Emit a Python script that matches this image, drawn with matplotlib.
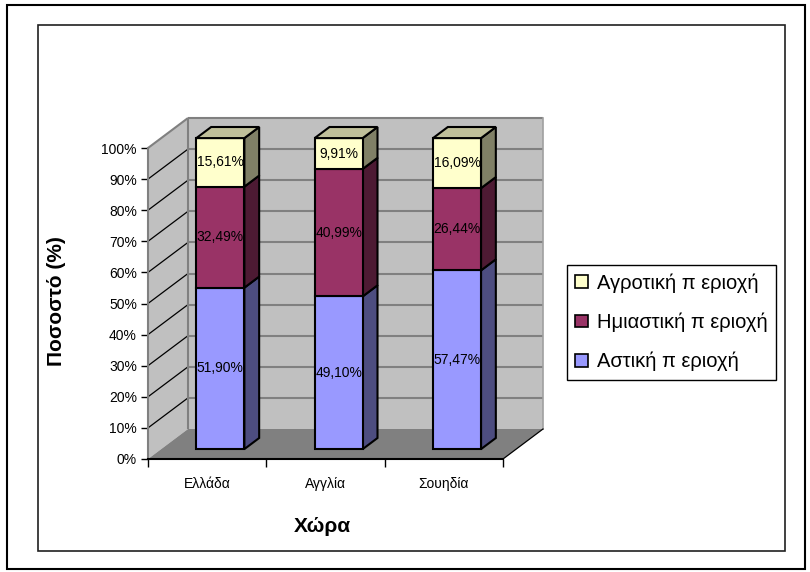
import matplotlib
matplotlib.use("Agg")
import matplotlib.pyplot as plt
from matplotlib.patches import Polygon, Rectangle

plt.rcParams['font.family'] = ['Liberation Sans', 'DejaVu Sans']

# ---- data ----
countries = ["Ελλάδα", "Αγγλία", "Σουηδία"]
series_names = ["Αστική π εριοχή", "Ημιαστική π εριοχή", "Αγροτική π εριοχή"]
urban = [51.90, 49.10, 57.47]
semi_urban = [32.49, 40.99, 26.44]
rural = [15.61, 9.91, 16.09]
y_ticks = [0, 10, 20, 30, 40, 50, 60, 70, 80, 90, 100]

series = [urban, semi_urban, rural]
face_colors = ["#9999FF", "#993366", "#FFFFCC"]
side_colors = ["#4D4D80", "#4D1A33", "#808066"]
top_colors = ["#7373BF", "#732650", "#C0C09A"]

W, H = 810, 572
fig = plt.figure(figsize=(W / 100, H / 100), dpi=100)

# frames around the chart
fig.add_artist(Rectangle((7 / W, 1 - 569 / H), 798 / W, 564 / H,
                         transform=fig.transFigure, fill=False,
                         edgecolor="black", lw=1.5))
fig.add_artist(Rectangle((38 / W, 1 - 551 / H), 747 / W, 526 / H,
                         transform=fig.transFigure, fill=False,
                         edgecolor="#202020", lw=1.2))

# front plane of the plot
ax_l, ax_r, ax_t, ax_b = 148, 503, 148, 459
ax = fig.add_axes([ax_l / W, 1 - ax_b / H, (ax_r - ax_l) / W, (ax_b - ax_t) / H])
n = len(countries)
ax.set_xlim(0, n)
ax.set_ylim(0, 100)
ax.patch.set_visible(False)

# depth offset of the back wall, in data units
px_x = n / (ax_r - ax_l)
px_y = 100 / (ax_b - ax_t)
DX, DY = 40 * px_x, 30 * px_y

# walls and floor
back = Polygon([(DX, DY), (n + DX, DY), (n + DX, 100 + DY), (DX, 100 + DY)],
               closed=True, facecolor="#C0C0C0", edgecolor="none", zorder=1, clip_on=False)
side = Polygon([(0, 0), (DX, DY), (DX, 100 + DY), (0, 100)],
               closed=True, facecolor="#C0C0C0", edgecolor="none", zorder=1, clip_on=False)
floor = Polygon([(0, 0), (n, 0), (n + DX, DY), (DX, DY)],
                closed=True, facecolor="#808080", edgecolor="none", zorder=1, clip_on=False)
for p in (back, side, floor):
    ax.add_patch(p)

grid_kw = dict(color="#808080", lw=1.5, zorder=2, clip_on=False, solid_capstyle="butt")
for v in y_ticks[1:]:
    ax.plot([DX, n + DX], [v + DY, v + DY], **grid_kw)
    if v < 100:
        ax.plot([0, DX], [v, v + DY], color="black", lw=0.9, zorder=2, clip_on=False)
    else:
        ax.plot([0, DX], [v, v + DY], **grid_kw)
ax.plot([DX, DX], [DY, 100 + DY], **grid_kw)
ax.plot([n + DX, n + DX], [DY, 100 + DY], color="#A0A0A0", lw=1.2, zorder=2, clip_on=False)
ax.plot([n, n + DX], [0, DY], color="black", lw=0.9, zorder=2, clip_on=False)

# stacked 3D columns
bar_w = 48 * px_x
fz, bz = 0.33, 0.37          # front offset and depth of a column, as fraction of wall depth
bdx, bdy = bz * DX, bz * DY
edge_kw = dict(edgecolor="black", lw=1.5, joinstyle="miter", clip_on=False)
for i in range(n):
    xl = i + 0.5 + fz * DX - bar_w / 2
    xr = xl + bar_w
    base = fz * DY
    for s, vals in enumerate(series):
        v = vals[i]
        y0, y1 = base, base + v
        ax.add_patch(Polygon([(xr, y0), (xr + bdx, y0 + bdy), (xr + bdx, y1 + bdy), (xr, y1)],
                             closed=True, facecolor=side_colors[s], zorder=4, **edge_kw))
        ax.add_patch(Polygon([(xl, y0), (xr, y0), (xr, y1), (xl, y1)],
                             closed=True, facecolor=face_colors[s], zorder=5, **edge_kw))
        ax.text((xl + xr) / 2, (y0 + y1) / 2, f"{v:.2f}%".replace(".", ","),
                ha="center", va="center", fontsize=10, color="black", zorder=10)
        base = y1
    ax.add_patch(Polygon([(xl, base), (xr, base), (xr + bdx, base + bdy), (xl + bdx, base + bdy)],
                         closed=True, facecolor=top_colors[-1], zorder=5, **edge_kw))

# axes
for sp in ("top", "right"):
    ax.spines[sp].set_visible(False)
ax.spines["left"].set_color("#808080")
ax.spines["left"].set_linewidth(1.5)
ax.spines["bottom"].set_color("black")
ax.spines["bottom"].set_linewidth(1.5)
ax.spines["left"].set_zorder(3)
ax.spines["bottom"].set_zorder(3)

ax.set_yticks(y_ticks)
ax.set_yticklabels([f"{v}%" for v in y_ticks])
ax.tick_params(axis="y", length=5, width=1, color="black", pad=3, labelsize=10)
ax.set_xticks(range(n + 1))
ax.set_xticklabels([])
ax.tick_params(axis="x", which="major", length=6, width=1, color="black")
ax.set_xticks([i + 0.5 for i in range(n)], minor=True)
ax.set_xticklabels(countries, minor=True)
ax.tick_params(axis="x", which="minor", length=0, pad=13, labelsize=10)

fig.text(57 / W, 1 - 301 / H, "Ποσοστό (%)", rotation=90, ha="center", va="center",
         fontsize=15, fontweight="bold")
fig.text(322 / W, 1 - 527 / H, "Χώρα", ha="center", va="center",
         fontsize=15, fontweight="bold")

# legend, top series first
handles = [Rectangle((0, 0), 1, 1, facecolor=face_colors[s], edgecolor="black", lw=1.2)
           for s in reversed(range(len(series)))]
labels = [series_names[s] for s in reversed(range(len(series)))]
leg = fig.legend(handles, labels, loc="upper left",
                 bbox_to_anchor=(567 / W, 1 - 265 / H), fontsize=14.5,
                 frameon=True, fancybox=False, edgecolor="black", framealpha=1,
                 handlelength=0.6, handleheight=0.6, handletextpad=0.45,
                 labelspacing=0.98, borderpad=0.42, borderaxespad=0)
leg.get_frame().set_linewidth(1.0)

fig.savefig("out.png", dpi=100)
